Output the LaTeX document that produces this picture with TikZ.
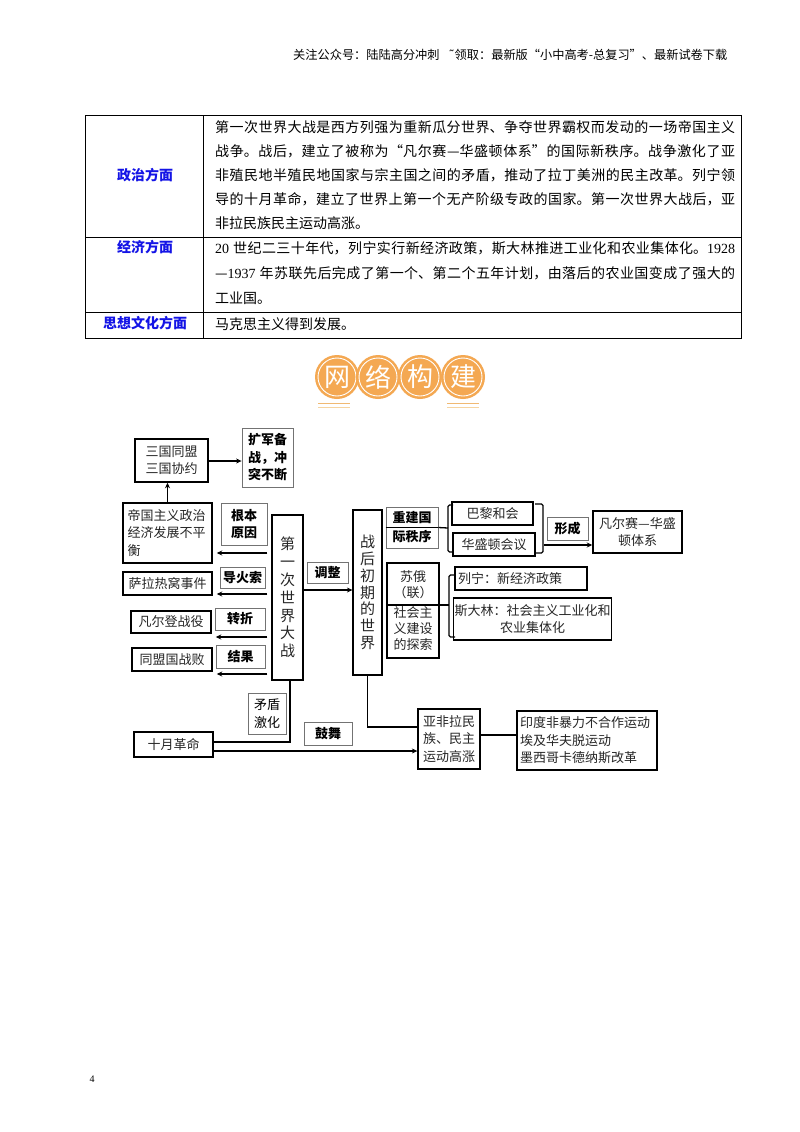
\documentclass[tikz,border=0pt]{standalone}
\usepackage{fontspec}
\setmainfont{Noto Sans CJK SC}
\newfontfamily\tnr{Liberation Serif}
\newfontfamily\dejavu{DejaVu Sans}
\usetikzlibrary{arrows.meta}
\XeTeXlinebreaklocale "zh"
\XeTeXlinebreakskip=0pt plus 2pt
\definecolor{lblue}{RGB}{20,20,230}
\definecolor{tor}{RGB}{244,168,82}
\definecolor{tline1}{RGB}{240,185,115}
\definecolor{tline2}{RGB}{246,212,160}
\newcommand{\jl}[1]{\parbox{520pt}{\parfillskip=0pt\relax #1\par}}
\begin{document}
\begin{tikzpicture}[x=1pt,y=-1pt,
  tbox/.style={draw=black,line width=1.5pt,inner sep=1pt,text=black!85,
    font=\fontsize{13}{17.5}\selectfont},
  lbox/.style={draw=black!55,line width=0.8pt,inner sep=1pt,text=black,
    font=\bfseries\fontsize{13}{17.5}\selectfont},
  arr/.style={line width=1.4pt,-{Stealth[length=5.5pt,width=5pt]}},
  lnk/.style={line width=1.3pt},
  tabtxt/.style={anchor=west,inner sep=0pt,font=\fontsize{14}{24}\selectfont,text=black},
  tabhd/.style={inner sep=0pt,font=\bfseries\fontsize{14}{17}\selectfont,text=lblue},
  tcirc/.style={circle,fill=tor,minimum size=44pt,inner sep=0pt,text=white,
    font=\fontsize{26}{26}\selectfont}]
\useasboundingbox (0,0) rectangle (800,1132);
\fill[white] (0,0) rectangle (800,1132);

% header
\node[anchor=west,inner sep=0pt,font=\fontsize{12.2}{14}\selectfont] (hdr) at (293,55)
  {关注公众号：陆陆高分冲刺\hspace{9pt}{\dejavu ˜}领取：最新版“小中高考-总复习”、最新试卷下载};

% table
\draw[line width=0.9pt] (85,115) rectangle (741,338);
\draw[line width=0.9pt] (203,115) -- (203,338);
\draw[line width=0.9pt] (85,237) -- (741,237);
\draw[line width=0.9pt] (85,312) -- (741,312);
\node[tabhd] (h1) at (145,175) {政治方面};
\node[tabhd] (h2) at (145,247) {经济方面};
\node[tabhd] (h3) at (145,323) {思想文化方面};
\node[tabtxt] (r1a) at (215,127) {\jl{第一次世界大战是西方列强为重新瓜分世界、争夺世界霸权而发动的一场帝国主义}};
\node[tabtxt] (r1b) at (215,151) {\jl{战争。战后，建立了被称为“凡尔赛—华盛顿体系”的国际新秩序。战争激化了亚}};
\node[tabtxt] (r1c) at (215,175) {\jl{非殖民地半殖民地国家与宗主国之间的矛盾，推动了拉丁美洲的民主改革。列宁领}};
\node[tabtxt] (r1d) at (215,199) {\jl{导的十月革命，建立了世界上第一个无产阶级专政的国家。第一次世界大战后，亚}};
\node[tabtxt] (r1e) at (215,223) {非拉民族民主运动高涨。};
\node[tabtxt] (r2a) at (215,248) {\jl{{\tnr 20}\kern4pt 世纪二三十年代，列宁实行新经济政策，斯大林推进工业化和农业集体化。{\tnr 1928}}};
\node[tabtxt] (r2b) at (215,273) {\jl{—{\tnr 1937}\kern4pt 年苏联先后完成了第一个、第二个五年计划，由落后的农业国变成了强大的}};
\node[tabtxt] (r2c) at (215,298) {工业国。};
\node[tabtxt] (r3a) at (215,324) {马克思主义得到发展。};

% title
\foreach \cx/\ch [count=\i] in {337/网,378/络,420/构,463/建}{
  \node[tcirc] (tc\i) at (\cx,377) {\ch};
  \draw[white,line width=0.9pt] (\cx,377) circle (19pt);
}
\draw[tline1,line width=1.8pt] (318,403.5) -- (350,403.5);
\draw[tline2,line width=1.5pt] (318,407.5) -- (350,407.5);
\draw[tline1,line width=1.8pt] (447,403.5) -- (479,403.5);
\draw[tline2,line width=1.5pt] (447,407.5) -- (479,407.5);

% diagram nodes
\node[tbox,minimum width=73pt,minimum height=43pt,align=left] (sg) at (171.5,460.5) {三国同盟\\三国协约};
\node[lbox,minimum width=51pt,minimum height=59pt,align=center] (kj) at (267.5,457.5) {扩军备\\战，冲\\突不断};
\node[tbox,minimum width=89pt,minimum height=60pt,align=left,text width=80pt] (dg) at (167.5,533) {帝国主义政治\\经济发展不平\\衡};
\node[lbox,minimum width=46pt,minimum height=42pt,align=center] (gb) at (244,524) {根本\\原因};
\node[tbox,minimum width=89pt,minimum height=23pt] (sl) at (167.5,583.5) {萨拉热窝事件};
\node[lbox,minimum width=45pt,minimum height=21pt] (dh) at (242.5,577.5) {导火索};
\node[tbox,minimum width=80pt,minimum height=22pt] (fe) at (171,622) {凡尔登战役};
\node[lbox,minimum width=50pt,minimum height=22pt] (zz) at (240,619) {转折};
\node[tbox,minimum width=80pt,minimum height=23pt] (tm) at (172,659.5) {同盟国战败};
\node[lbox,minimum width=49pt,minimum height=23pt] (jg) at (240.5,656.5) {结果};
\node[tbox,line width=1.2pt,minimum width=31pt,minimum height=165pt,align=center,
  font=\fontsize{15}{17.8}\selectfont] (ww) at (287.5,597.5) {第\\一\\次\\世\\界\\大\\战};
\node[lbox,minimum width=41pt,minimum height=21pt] (tz) at (327.5,572.5) {调整};
\node[tbox,line width=1.2pt,minimum width=29pt,minimum height=165pt,align=center,
  font=\fontsize{15}{16.8}\selectfont] (zh) at (367.5,592.5) {战\\后\\初\\期\\的\\世\\界};
\node[lbox,minimum width=52pt,minimum height=41pt,align=center,
  font=\bfseries\fontsize{13}{19}\selectfont] (cj) at (412,527.5) {重建国\\际秩序};
\node[tbox,minimum width=81pt,minimum height=23pt] (bl) at (492.5,513.5) {巴黎和会};
\node[tbox,minimum width=82pt,minimum height=23pt] (hs) at (494,544.5) {华盛顿会议};
\node[lbox,minimum width=41pt,minimum height=23pt] (xc) at (567.5,528.5) {形成};
\node[tbox,minimum width=89pt,minimum height=42pt,align=center] (fw) at (637.5,532) {凡尔赛—华盛\\顿体系};
\node[tbox,minimum width=52pt,minimum height=95pt,align=center,
  font=\fontsize{13}{16}\selectfont] (se) at (413,610.5) {苏俄\\（联）\\[4pt]社会主\\义建设\\的探索};
\node[tbox,minimum width=132pt,minimum height=23pt,text width=126pt,align=left] (ln) at (521,578.5) {列宁：新经济政策};
\node[tbox,minimum width=155pt,minimum height=42pt,align=center] (st) at (532.5,619) {斯大林：社会主义工业化和\\农业集体化};
\node[lbox,font=\fontsize{13}{17.5}\selectfont,minimum width=38pt,minimum height=41pt,align=center] (mj) at (267,713.5) {矛盾\\激化};
\node[tbox,minimum width=79pt,minimum height=25pt] (sy) at (173.5,744.5) {十月革命};
\node[lbox,minimum width=48pt,minimum height=23pt] (gw) at (328,733.5) {鼓舞};
\node[tbox,line width=1.3pt,minimum width=62pt,minimum height=60pt,align=left] (yf) at (449,739) {亚非拉民\\族、民主\\运动高涨};
\node[tbox,minimum width=140pt,minimum height=59pt,text width=134pt,align=left] (yd) at (587,740.5) {印度非暴力不合作运动\\埃及华夫脱运动\\墨西哥卡德纳斯改革};

% middle lines inside boxes
\draw[line width=1.5pt] (cj.west) -- (cj.east);
\draw[line width=1.5pt] ([yshift=5.5pt]se.west) -- ([yshift=5.5pt]se.east);

% connectors
\coordinate (s1) at (200,461);
\draw[arr] (s1 -| sg.east) -- (s1 -| kj.west);
\draw[arr] (dg.north) -- (dg.north |- sg.south);
\coordinate (p1) at (268,553);
\coordinate (p2) at (268,594);
\coordinate (p3) at (268,637);
\coordinate (p4) at (268,674);
\foreach \p/\t in {p1/dg,p2/sl,p3/fe,p4/tm}{
  \draw[arr,shorten <=4pt,shorten >=4pt] (\p -| ww.west) -- (\p -| \t.east);
}
\coordinate (p5) at (320,590);
\draw[arr] (p5 -| ww.east) -- (p5 -| zh.west);
% brace for conferences
\draw[lnk,rounded corners=1.5pt] (453,505) -- (448,505) -- (448,552) -- (453,552);
\draw[lnk] (cj.east) -- (448,528);
\draw[lnk,rounded corners=1.5pt] (535,504) -- (543,504) -- (543,553) -- (535,553);
\coordinate (rb) at (544,545);
\draw[arr] (rb) -- (rb -| fw.west);
% brace for Soviet
\draw[lnk,rounded corners=1.5pt] (455,575) -- (449,575) -- (449,637) -- (455,637);
\draw[lnk] ([yshift=5.5pt]se.east) -- (449,605);
% bottom
\draw[lnk] (zh.south) |- ([yshift=12pt]yf.west);
\draw[lnk] ([xshift=2.5pt]ww.south) |- ([yshift=2.5pt]sy.east);
\coordinate (q) at ([yshift=-6.5pt]sy.east);
\draw[arr] (q) -- (q -| yf.west);
\coordinate (q2) at ([yshift=4pt]yf.east);
\draw[lnk] (q2) -- (q2 -| yd.west);

% page number
\node[inner sep=0pt,font=\tnr\fontsize{10}{12}\selectfont] (pg) at (92,1079) {4};
\end{tikzpicture}
\end{document}
